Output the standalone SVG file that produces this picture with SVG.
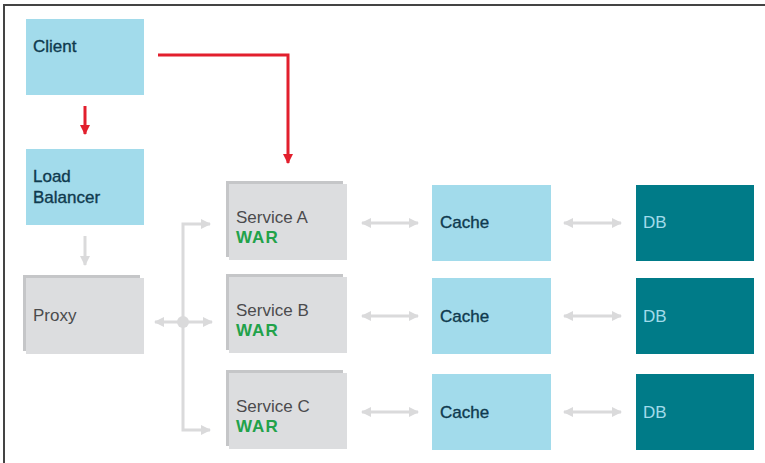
<svg xmlns="http://www.w3.org/2000/svg" width="765" height="463" viewBox="0 0 765 463">
<style>
.blue{fill:#a2dbeb}
.teal{fill:#007b88}
.front{fill:#dcdddf}
.back{fill:#c5c6c8}
.t{font-family:"Liberation Sans",Arial,sans-serif;font-size:17px}
.navy{fill:#0f3a4e;stroke:#0f3a4e;stroke-width:0.35}
.gray{fill:#4b4b4d}
.war{fill:#22a24a;font-weight:bold;letter-spacing:1px}
.db{fill:#a2dbeb}
.red{stroke:#e21f2d;stroke-width:3;fill:none}
.con{stroke:#dadadb;stroke-width:3;fill:none}
</style>
<defs>
<marker id="ar" viewBox="0 0 10 10" refX="9" refY="5" markerWidth="10" markerHeight="10" markerUnits="userSpaceOnUse" orient="auto-start-reverse">
<path d="M0,0 L10,5 L0,10 z" fill="#e21f2d"/>
</marker>
<marker id="ag" viewBox="0 0 10 10" refX="9" refY="5" markerWidth="10" markerHeight="10" markerUnits="userSpaceOnUse" orient="auto-start-reverse">
<path d="M0,0 L10,5 L0,10 z" fill="#dadadb"/>
</marker>
</defs>
<rect width="765" height="463" fill="#fff"/>
<path d="M4,463 V5 H765" stroke="#444" stroke-width="2" fill="none"/>

<g id="client"><rect class="blue" x="26" y="19" width="118" height="76"/><text class="t navy" x="33" y="52">Client</text></g>
<g id="loadbalancer"><rect class="blue" x="26" y="149" width="118" height="76"/><text class="t navy" x="33" y="182">Load</text><text class="t navy" x="33" y="203">Balancer</text></g>
<g id="proxy"><rect class="back" x="23" y="275" width="117" height="76"/><rect class="front" x="26" y="278" width="118" height="76"/><text class="t gray" x="33" y="321">Proxy</text></g>

<g id="serviceA"><rect class="back" x="226" y="181" width="117" height="76"/><rect class="front" x="229" y="184" width="118" height="76"/><text class="t gray" x="236" y="223">Service A</text><text class="t war" x="236" y="243">WAR</text></g>
<g id="serviceB"><rect class="back" x="226" y="274" width="117" height="76"/><rect class="front" x="229" y="277" width="118" height="76"/><text class="t gray" x="236" y="316">Service B</text><text class="t war" x="236" y="336">WAR</text></g>
<g id="serviceC"><rect class="back" x="226" y="370" width="117" height="76"/><rect class="front" x="229" y="373" width="118" height="76"/><text class="t gray" x="236" y="412">Service C</text><text class="t war" x="236" y="432">WAR</text></g>

<g id="cacheA"><rect class="blue" x="432" y="185" width="119" height="76"/><text class="t navy" x="440" y="228">Cache</text></g>
<g id="cacheB"><rect class="blue" x="432" y="278" width="119" height="76"/><text class="t navy" x="440" y="322">Cache</text></g>
<g id="cacheC"><rect class="blue" x="432" y="374" width="119" height="76"/><text class="t navy" x="440" y="418">Cache</text></g>

<g id="dbA"><rect class="teal" x="636" y="185" width="118" height="76"/><text class="t db" x="643" y="228">DB</text></g>
<g id="dbB"><rect class="teal" x="636" y="278" width="118" height="76"/><text class="t db" x="643" y="322">DB</text></g>
<g id="dbC"><rect class="teal" x="636" y="374" width="118" height="76"/><text class="t db" x="643" y="418">DB</text></g>

<g id="connectors">
<path class="red" d="M85,106 V134" marker-end="url(#ar)"/>
<path class="red" d="M158,55 H288 V163" marker-end="url(#ar)"/>
<path class="con" d="M85,236 V265" marker-end="url(#ag)"/>
<path class="con" d="M210,224 H183 V430 H210" marker-start="url(#ag)" marker-end="url(#ag)"/>
<path class="con" d="M155,322 H212" marker-start="url(#ag)" marker-end="url(#ag)"/>
<circle cx="183" cy="322" r="6" fill="#dadadb"/>
<path class="con" d="M362,223 H418" marker-start="url(#ag)" marker-end="url(#ag)"/>
<path class="con" d="M362,316 H418" marker-start="url(#ag)" marker-end="url(#ag)"/>
<path class="con" d="M362,412 H418" marker-start="url(#ag)" marker-end="url(#ag)"/>
<path class="con" d="M564,223 H621" marker-start="url(#ag)" marker-end="url(#ag)"/>
<path class="con" d="M564,316 H621" marker-start="url(#ag)" marker-end="url(#ag)"/>
<path class="con" d="M564,412 H621" marker-start="url(#ag)" marker-end="url(#ag)"/>
</g>
</svg>
